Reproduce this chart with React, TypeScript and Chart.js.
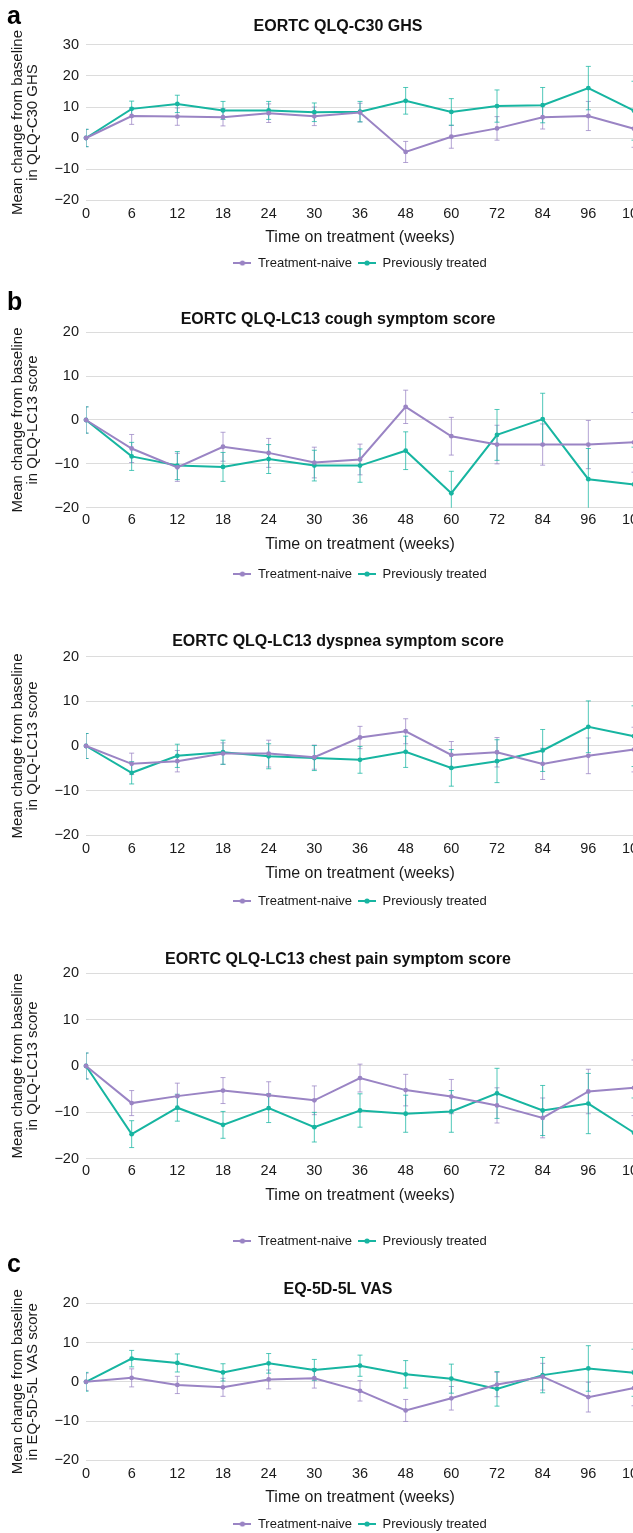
import React, { useEffect, useRef } from 'react';
import { Chart, registerables } from 'chart.js';

Chart.register(...registerables);

// ---------- data ----------
const weeks = ['0', '6', '12', '18', '24', '30', '36', '48', '60', '72', '84', '96', '108'];
const seriesNames = ['Treatment-naive', 'Previously treated'];
const xAxisTitle = 'Time on treatment (weeks)';
const yTitleLine1 = 'Mean change from baseline';

// a: EORTC QLQ-C30 GHS
const naiveGHS = [0, 7.1, 6.9, 6.7, 8.0, 7.0, 8.2, -4.5, 0.4, 3.1, 6.7, 7.1, 3.0];
const naiveGHSErr = [2.8, 2.7, 2.8, 2.8, 3.0, 3.0, 3.0, 3.4, 3.7, 3.8, 3.8, 4.7, 6.0];
const prevGHS = [0, 9.4, 11.0, 8.9, 8.9, 8.3, 8.5, 12.0, 8.4, 10.3, 10.6, 16.1, 8.8];
const prevGHSErr = [2.8, 2.5, 2.8, 2.9, 2.9, 3.0, 3.3, 4.3, 4.3, 5.2, 5.7, 7.0, 9.5];

// b: cough
const naiveCough = [0, -6.5, -10.8, -6.1, -7.5, -9.7, -9.0, 3.0, -3.7, -5.6, -5.6, -5.6, -5.1];
const naiveCoughErr = [3.0, 3.2, 3.2, 3.3, 3.3, 3.5, 3.5, 3.8, 4.3, 4.4, 4.7, 5.5, 6.8];
const prevCough = [0, -8.3, -10.4, -10.7, -8.9, -10.4, -10.4, -7.0, -16.7, -3.4, 0.2, -13.5, -14.7];
const prevCoughErr = [3.0, 3.2, 3.2, 3.3, 3.3, 3.5, 3.8, 4.3, 5.0, 5.8, 5.9, 7.0, 8.5];

// dyspnea
const naiveDysp = [0, -4.0, -3.4, -1.7, -1.7, -2.5, 1.9, 3.3, -2.0, -1.4, -4.0, -2.2, -0.8];
const naiveDyspErr = [2.8, 2.4, 2.4, 2.4, 3.0, 2.7, 2.5, 2.8, 3.0, 3.3, 3.5, 4.0, 5.0];
const prevDysp = [0, -6.0, -2.2, -1.4, -2.3, -2.7, -3.1, -1.3, -4.9, -3.4, -1.0, 4.3, 2.2];
const prevDyspErr = [2.8, 2.5, 2.6, 2.7, 2.8, 2.8, 3.0, 3.5, 4.1, 4.8, 4.7, 5.8, 6.8];

// chest pain
const naiveChest = [0, -8.0, -6.5, -5.3, -6.3, -7.4, -2.6, -5.2, -6.6, -8.5, -11.2, -5.5, -4.7];
const naiveChestErr = [2.8, 2.7, 2.8, 2.8, 2.9, 3.1, 3.0, 3.4, 3.7, 3.8, 4.3, 4.8, 6.0];
const prevChest = [0, -14.7, -9.0, -12.7, -9.1, -13.2, -9.6, -10.3, -9.8, -5.9, -9.6, -8.1, -14.4];
const prevChestErr = [2.8, 2.9, 2.9, 2.9, 3.1, 3.2, 3.6, 4.0, 4.5, 5.4, 5.4, 6.5, 7.5];

// c: EQ-5D-5L VAS
const naiveVAS = [0, 1.0, -0.8, -1.4, 0.6, 0.9, -2.3, -7.3, -4.2, -0.7, 1.3, -3.9, -1.6];
const naiveVASErr = [2.2, 2.3, 2.2, 2.3, 2.4, 2.5, 2.6, 2.8, 3.0, 3.1, 3.4, 3.8, 4.5];
const prevVAS = [0, 5.9, 4.8, 2.4, 4.7, 3.0, 4.1, 1.9, 0.8, -1.8, 1.7, 3.4, 2.3];
const prevVASErr = [2.4, 2.1, 2.3, 2.2, 2.5, 2.7, 2.7, 3.5, 3.7, 4.4, 4.5, 5.8, 6.0];

// ---------- style / layout ----------
const FONT = '"Liberation Sans", Arial, Helvetica, sans-serif';
const PURPLE = '#9a84c4';
const TEAL = '#17b5a1';
const PURPLE_ERR = 'rgba(154,132,196,0.75)';
const TEAL_ERR = 'rgba(23,181,161,0.75)';
const TEXT = '#1a1a1a';
const GRID = '#dcdcdc';

const CANVAS_W = 676;
const AREA_LEFT = 86;
const RIGHT_GAP = 42;

const TITLE_SIZE = 16;
const TITLE_LH = TITLE_SIZE * 1.2;
const TICK_SIZE = 14.5;
const TICK_LH = TICK_SIZE * 1.2;
const XT_SIZE = 16;
const XT_LH = XT_SIZE * 1.2;
const YT_SIZE = 15;
const YT_LH = 15.6;
const LEG_SIZE = 13;
const LEG_PAD = 6;
const LEG_H = LEG_SIZE + LEG_PAD + 10;

type PanelDef = {
  title: string;
  yLine2: string;
  yMax: number;
  naive: number[];
  naiveErr: number[];
  prev: number[];
  prevErr: number[];
  titleY: number;
  areaTop: number;
  areaBottom: number;
  tickY: number;
  xTitleY: number;
  legendY: number;
};

const panels: PanelDef[] = [
  { title: 'EORTC QLQ-C30 GHS', yLine2: 'in QLQ-C30 GHS', yMax: 30,
    naive: naiveGHS, naiveErr: naiveGHSErr, prev: prevGHS, prevErr: prevGHSErr,
    titleY: 27, areaTop: 45, areaBottom: 200, tickY: 214, xTitleY: 238, legendY: 263 },
  { title: 'EORTC QLQ-LC13 cough symptom score', yLine2: 'in QLQ-LC13 score', yMax: 20,
    naive: naiveCough, naiveErr: naiveCoughErr, prev: prevCough, prevErr: prevCoughErr,
    titleY: 319.5, areaTop: 332.3, areaBottom: 507.7, tickY: 520, xTitleY: 545, legendY: 574 },
  { title: 'EORTC QLQ-LC13 dyspnea symptom score', yLine2: 'in QLQ-LC13 score', yMax: 20,
    naive: naiveDysp, naiveErr: naiveDyspErr, prev: prevDysp, prevErr: prevDyspErr,
    titleY: 642, areaTop: 656.7, areaBottom: 835.3, tickY: 849, xTitleY: 873.5, legendY: 901 },
  { title: 'EORTC QLQ-LC13 chest pain symptom score', yLine2: 'in QLQ-LC13 score', yMax: 20,
    naive: naiveChest, naiveErr: naiveChestErr, prev: prevChest, prevErr: prevChestErr,
    titleY: 960, areaTop: 973.3, areaBottom: 1158.7, tickY: 1171, xTitleY: 1196, legendY: 1241 },
  { title: 'EQ-5D-5L VAS', yLine2: 'in EQ-5D-5L VAS score', yMax: 20,
    naive: naiveVAS, naiveErr: naiveVASErr, prev: prevVAS, prevErr: prevVASErr,
    titleY: 1290, areaTop: 1303.3, areaBottom: 1460.3, tickY: 1474, xTitleY: 1498, legendY: 1524 },
];

const letters = [
  { text: 'a', baseline: 24 },
  { text: 'b', baseline: 310 },
  { text: 'c', baseline: 1272 },
];

// ---------- plugins ----------
const errorBarPlugin = {
  id: 'errorBars',
  beforeDatasetsDraw(chart: any, _args: any, opts: any) {
    const { ctx, chartArea } = chart;
    const errs = opts.errors || [];
    const colors = opts.colors || [];
    ctx.save();
    ctx.beginPath();
    ctx.rect(chartArea.left, chartArea.top, chartArea.right - chartArea.left, chartArea.bottom - chartArea.top);
    ctx.clip();
    chart.data.datasets.forEach((ds: any, i: number) => {
      const meta = chart.getDatasetMeta(i);
      const yScale = chart.scales[meta.yAxisID];
      const e = errs[i];
      if (!e) return;
      ctx.strokeStyle = colors[i];
      ctx.lineWidth = 1;
      meta.data.forEach((pt: any, j: number) => {
        const v = ds.data[j];
        const d = e[j];
        const x = pt.x;
        const yHi = yScale.getPixelForValue(v + d);
        const yLo = yScale.getPixelForValue(v - d);
        const cap = 2.5;
        ctx.beginPath();
        ctx.moveTo(x, yHi);
        ctx.lineTo(x, yLo);
        ctx.moveTo(x - cap, yHi);
        ctx.lineTo(x + cap, yHi);
        ctx.moveTo(x - cap, yLo);
        ctx.lineTo(x + cap, yLo);
        ctx.stroke();
      });
    });
    ctx.restore();
  },
};

function makeMarker(color: string): HTMLCanvasElement {
  const c = document.createElement('canvas');
  c.width = 18;
  c.height = 8;
  const g = c.getContext('2d')!;
  g.strokeStyle = color;
  g.lineWidth = 2;
  g.beginPath();
  g.moveTo(0, 4);
  g.lineTo(18, 4);
  g.stroke();
  g.fillStyle = color;
  g.beginPath();
  g.arc(9, 4, 2.6, 0, Math.PI * 2);
  g.fill();
  return c;
}

const fmtTick = (v: any) => {
  const n = Number(v);
  return n < 0 ? '\u2212' + Math.abs(n) : String(n);
};

function PanelChart({ p }: { p: PanelDef }) {
  const ref = useRef<HTMLCanvasElement | null>(null);

  const top = Math.floor(p.titleY - TITLE_LH / 2 - 4);
  const titlePadTop = p.titleY - TITLE_LH / 2 - top;
  const titlePadBottom = p.areaTop - (p.titleY + TITLE_LH / 2);
  const tickPad = p.tickY - p.areaBottom - TICK_LH / 2;
  const legendTop = p.legendY - LEG_PAD - LEG_SIZE / 2;
  const xAxisH = legendTop - p.areaBottom;
  const xTitlePadBottom = legendTop - p.xTitleY - XT_LH / 2;
  const contentBottom = legendTop + LEG_H;
  const height = Math.ceil(contentBottom - top);
  const layoutPadBottom = height - (contentBottom - top);

  useEffect(() => {
    if (!ref.current) return;
    const markers = [makeMarker(PURPLE), makeMarker(TEAL)];
    const chart = new Chart(ref.current, {
      type: 'line',
      data: {
        labels: weeks,
        datasets: [
          {
            label: seriesNames[0],
            data: p.naive,
            borderColor: PURPLE,
            backgroundColor: PURPLE,
            borderWidth: 2,
            pointRadius: 2.4,
            pointBorderWidth: 0,
            pointHoverRadius: 0,
            tension: 0,
            yAxisID: 'y',
            clip: false as any,
          },
          {
            label: seriesNames[1],
            data: p.prev,
            borderColor: TEAL,
            backgroundColor: TEAL,
            borderWidth: 2,
            pointRadius: 2.4,
            pointBorderWidth: 0,
            pointHoverRadius: 0,
            tension: 0,
            yAxisID: 'y',
            clip: false as any,
          },
        ],
      },
      options: {
        responsive: false,
        animation: false,
        devicePixelRatio: 1,
        events: [],
        layout: { padding: { left: 0, right: 0, top: 0, bottom: layoutPadBottom } },
        scales: {
          x: {
            type: 'category',
            offset: false,
            grid: { display: false, drawTicks: false },
            border: { display: false },
            ticks: {
              padding: tickPad,
              autoSkip: false,
              maxRotation: 0,
              minRotation: 0,
              color: TEXT,
              font: { family: FONT, size: TICK_SIZE },
            },
            title: {
              display: true,
              text: xAxisTitle,
              color: TEXT,
              font: { family: FONT, size: XT_SIZE },
              padding: { top: 0, bottom: xTitlePadBottom },
            },
            afterFit: (s: any) => {
              s.height = xAxisH;
            },
          },
          y: {
            type: 'linear',
            position: 'left',
            min: -20,
            max: p.yMax,
            grid: { color: GRID, lineWidth: 1, drawTicks: false },
            border: { display: false },
            ticks: {
              stepSize: 10,
              padding: 7,
              color: TEXT,
              font: { family: FONT, size: TICK_SIZE },
              callback: fmtTick,
            },
            title: {
              display: true,
              text: [yTitleLine1, p.yLine2],
              color: TEXT,
              font: { family: FONT, size: YT_SIZE, lineHeight: YT_LH / YT_SIZE },
              padding: { top: 17.5 - YT_LH / 2, bottom: 0 },
            },
            afterFit: (s: any) => {
              s.width = AREA_LEFT;
            },
          },
          yr: {
            type: 'linear',
            position: 'right',
            display: true,
            grid: { display: false, drawTicks: false },
            border: { display: false },
            ticks: { display: false },
            afterFit: (s: any) => {
              s.width = RIGHT_GAP;
            },
          },
        },
        plugins: {
          tooltip: { enabled: false },
          title: {
            display: true,
            text: p.title,
            color: '#111',
            font: { family: FONT, size: TITLE_SIZE, weight: 'bold' },
            padding: { top: titlePadTop, bottom: titlePadBottom },
          },
          legend: {
            display: true,
            position: 'bottom',
            fullSize: false,
            labels: {
              usePointStyle: true,
              pointStyleWidth: 18,
              padding: LEG_PAD,
              color: TEXT,
              font: { family: FONT, size: LEG_SIZE },
              generateLabels: (chart: any) => {
                const items = Chart.defaults.plugins.legend.labels.generateLabels(chart);
                return items.map((it: any, i: number) => ({ ...it, pointStyle: markers[i] }));
              },
            },
          },
          errorBars: {
            errors: [p.naiveErr, p.prevErr],
            colors: [PURPLE_ERR, TEAL_ERR],
          },
        } as any,
      },
      plugins: [errorBarPlugin],
    } as any);
    return () => chart.destroy();
  }, []);

  return (
    <canvas
      ref={ref}
      width={CANVAS_W}
      height={height}
      style={{ position: 'absolute', left: 0, top, width: CANVAS_W, height, display: 'block' }}
    />
  );
}

export default function App() {
  return (
    <div
      style={{
        position: 'absolute',
        left: 0,
        top: 0,
        width: 633,
        height: 1533,
        overflow: 'hidden',
        background: '#ffffff',
      }}
    >
      {panels.map((p, i) => (
        <PanelChart key={i} p={p} />
      ))}
      {letters.map((l) => (
        <div
          key={l.text}
          style={{
            position: 'absolute',
            left: 7,
            top: l.baseline - 21.2,
            fontFamily: FONT,
            fontWeight: 'bold',
            fontSize: 25,
            lineHeight: '25px',
            color: '#000',
          }}
        >
          {l.text}
        </div>
      ))}
    </div>
  );
}
